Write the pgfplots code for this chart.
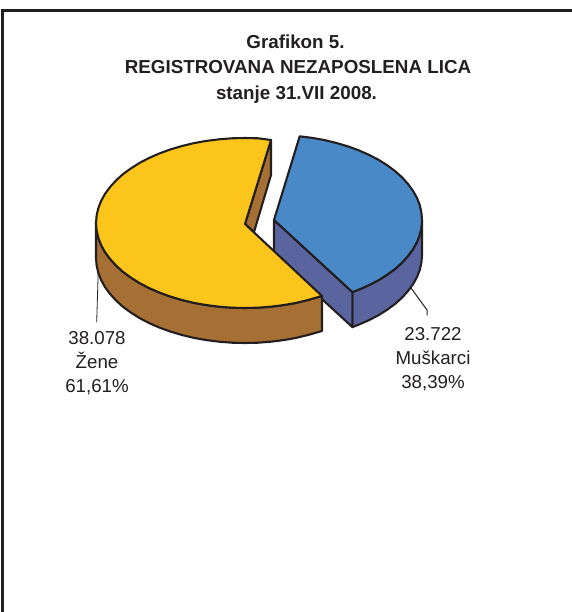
\documentclass[border=0pt]{standalone}
\usepackage{pgfplots}
\pgfplotsset{compat=1.18}
\usepackage{fontspec}
\setmainfont{Liberation Sans}
\definecolor{ink}{HTML}{231F20}
\definecolor{yel}{HTML}{FBC51B}
\definecolor{brn}{HTML}{A66F33}
\definecolor{blu}{HTML}{4A89C8}
\definecolor{pur}{HTML}{5A65A0}
\begin{document}
\begin{tikzpicture}
\useasboundingbox (0,0) rectangle (572bp,612bp);
\begin{axis}[
  at={(0,0)}, anchor=south west,
  width=572bp, height=612bp, scale only axis,
  xmin=0, xmax=572, ymin=0, ymax=612, y dir=reverse,
  hide axis, clip=false,
  every axis plot/.append style={line join=round, line cap=round},
]
% frame
\addplot[ink, line width=3bp, mark=none, line join=miter, line cap=butt] coordinates {(2.5,612) (2.5,11) (572,11)};
% leaders
\addplot[ink, line width=0.8bp, mark=none] coordinates {(98.5,262) (96.7,322)};
\addplot[ink, line width=1bp, mark=none] coordinates {(411,288) (427,310) (427,315)};
% blue outer side
\addplot[fill=pur, draw=ink, line width=2.1bp, mark=none] coordinates {
(422,220)(421.4,227.4)(419.8,234.8)(417.0,242.0)(413.1,249.1)(408.1,255.9)(402.2,262.5)(395.2,268.8)(387.4,274.6)(378.7,280.1)(369.1,285.1)(358.9,289.6)(352.4,292.1)
(352.4,327.1)(358.9,324.6)(369.1,320.1)(378.7,315.1)(387.4,309.6)(395.2,303.8)(402.2,297.5)(408.1,290.9)(413.1,284.1)(417.0,277.0)(419.8,269.8)(421.4,262.4)(422,255)
} -- cycle;
% blue radial face
\addplot[fill=pur, draw=ink, line width=2.1bp, mark=none] coordinates {(274,220)(352.4,292.1)(352.4,327.1)(274,255)} -- cycle;
% blue top
\addplot[fill=blu, draw=ink, line width=2.1bp, mark=none] coordinates {
(274,220)(299.7,136.3)(312.3,137.9)(324.6,140.1)(336.5,143.0)(348,146.4)(358.9,150.4)(369.1,154.9)(378.7,159.9)(387.4,165.4)(395.2,171.2)(402.2,177.5)(408.1,184.1)(413.1,190.9)(417.0,198.0)(419.8,205.2)(421.4,212.6)(422,220)(421.4,227.4)(419.8,234.8)(417.0,242.0)(413.1,249.1)(408.1,255.9)(402.2,262.5)(395.2,268.8)(387.4,274.6)(378.7,280.1)(369.1,285.1)(358.9,289.6)(352.4,292.1)
} -- cycle;
% yellow inner face
\addplot[fill=brn, draw=ink, line width=2.1bp, mark=none] coordinates {(245,224)(271,140)(271,175)(254,232)} -- cycle;
% yellow outer side
\addplot[fill=brn, draw=ink, line width=2.1bp, mark=none] coordinates {
(96,223)(96.6,230.4)(98.3,237.8)(101.1,245.0)(105.0,252.1)(110.0,258.9)(116.0,265.5)(122.9,271.8)(130.9,277.6)(139.6,283.1)(149.2,288.1)(159.5,292.6)(170.5,296.6)(182.0,300.0)(194.0,302.9)(206.4,305.1)(219.1,306.7)(232.0,307.7)(245,308)(258.0,307.7)(270.9,306.7)(283.6,305.1)(296.0,302.9)(308.0,300.0)(322,296)
(322,331)(308.0,335.0)(296.0,337.9)(283.6,340.1)(270.9,341.7)(258.0,342.7)(245,343)(232.0,342.7)(219.1,341.7)(206.4,340.1)(194.0,337.9)(182.0,335.0)(170.5,331.6)(159.5,327.6)(149.2,323.1)(139.6,318.1)(130.9,312.6)(122.9,306.8)(116.0,300.5)(110.0,293.9)(105.0,287.1)(101.1,280.0)(98.3,272.8)(96.6,265.4)(96,258)
} -- cycle;
% yellow top
\addplot[fill=yel, draw=ink, line width=2.1bp, mark=none] coordinates {
(245,224)(271,140)(258.0,138.3)(245,138)(232.0,138.3)(219.1,139.3)(206.4,140.9)(194.0,143.1)(182.0,146.0)(170.5,149.4)(159.5,153.4)(149.2,157.9)(139.6,162.9)(130.9,168.4)(122.9,174.2)(116.0,180.5)(110.0,187.1)(105.0,193.9)(101.1,201.0)(98.3,208.2)(96.6,215.6)(96,223)(96.6,230.4)(98.3,237.8)(101.1,245.0)(105.0,252.1)(110.0,258.9)(116.0,265.5)(122.9,271.8)(130.9,277.6)(139.6,283.1)(149.2,288.1)(159.5,292.6)(170.5,296.6)(182.0,300.0)(194.0,302.9)(206.4,305.1)(219.1,306.7)(232.0,307.7)(245,308)(258.0,307.7)(270.9,306.7)(283.6,305.1)(296.0,302.9)(308.0,300.0)(322,296)
} -- cycle;
% title
\node[anchor=base, inner sep=0pt, text=ink, font=\fontsize{18.8bp}{23bp}\selectfont\bfseries] at (axis cs:295.5,49) {Grafikon 5.};
\node[anchor=base, inner sep=0pt, text=ink, font=\fontsize{18.8bp}{23bp}\selectfont\bfseries] at (axis cs:298,74) {REGISTROVANA NEZAPOSLENA LICA};
\node[anchor=base, inner sep=0pt, text=ink, font=\fontsize{18.8bp}{23bp}\selectfont\bfseries] at (axis cs:296.5,99) {stanje 31.VII 2008.};
% labels
\node[anchor=base, inner sep=0pt, text=ink, font=\fontsize{18.7bp}{22bp}\selectfont] at (axis cs:97,344) {38.078};
\node[anchor=base, inner sep=0pt, text=ink, font=\fontsize{18.7bp}{22bp}\selectfont] at (axis cs:97,368) {Žene};
\node[anchor=base, inner sep=0pt, text=ink, font=\fontsize{18.7bp}{22bp}\selectfont] at (axis cs:97,392) {61,61\%};
\node[anchor=base, inner sep=0pt, text=ink, font=\fontsize{18.7bp}{22bp}\selectfont] at (axis cs:433,340) {23.722};
\node[anchor=base, inner sep=0pt, text=ink, font=\fontsize{18.7bp}{22bp}\selectfont] at (axis cs:433,364) {Muškarci};
\node[anchor=base, inner sep=0pt, text=ink, font=\fontsize{18.7bp}{22bp}\selectfont] at (axis cs:433,388) {38,39\%};
\end{axis}
\end{tikzpicture}
\end{document}
